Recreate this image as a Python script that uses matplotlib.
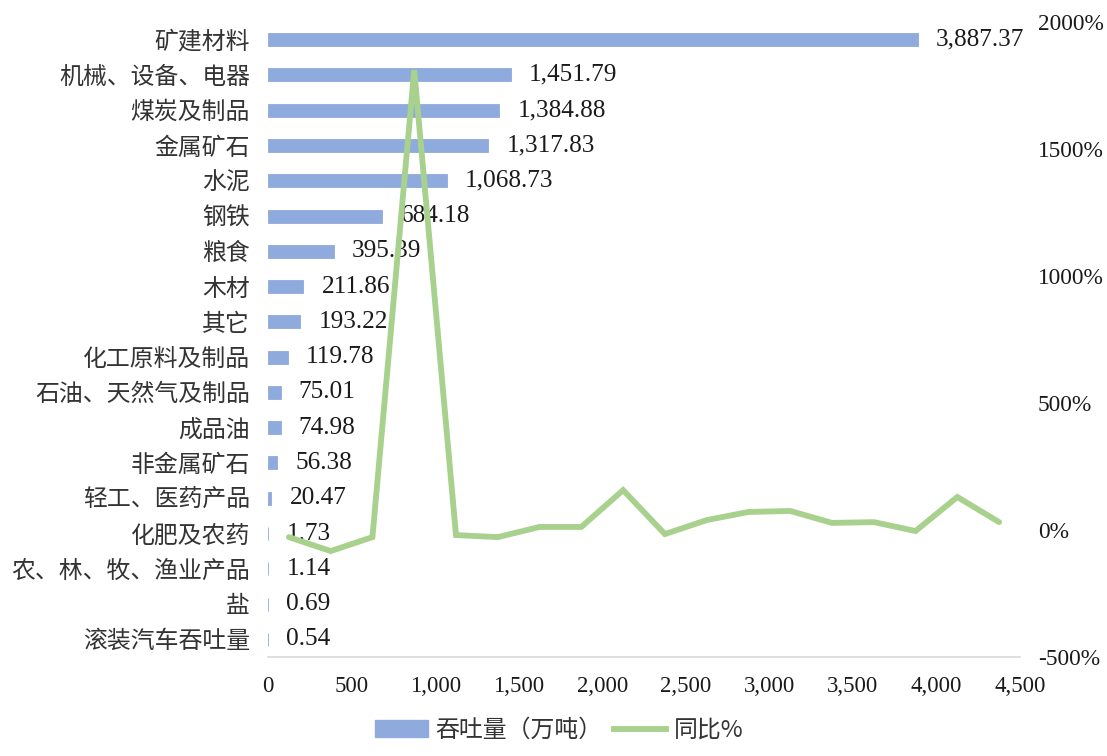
import numpy as np
import matplotlib.pyplot as plt
from matplotlib.ticker import FuncFormatter

plt.rcParams['font.family'] = ['Noto Sans CJK SC', 'DejaVu Sans']

# categories listed from the bottom bar upward (same order as the line points)
categories = ["滚装汽车吞吐量", "盐", "农、林、牧、渔业产品", "化肥及农药",
              "轻工、医药产品", "非金属矿石", "成品油", "石油、天然气及制品",
              "化工原料及制品", "其它", "木材", "粮食", "钢铁", "水泥",
              "金属矿石", "煤炭及制品", "机械、设备、电器", "矿建材料"]
throughput = [0.54, 0.69, 1.14, 1.73, 20.47, 56.38, 74.98, 75.01, 119.78,
              193.22, 211.86, 395.39, 684.18, 1068.73, 1317.83, 1384.88,
              1451.79, 3887.37]
yoy_pct = [-28, -83, -28, 1811, -20, -28, 12, 12, 157, -16, 39, 71, 75,
           28, 31, -4, 130, 31]

x_ticks = np.arange(0, 4501, 500)
y2_ticks = np.arange(-500, 2001, 500)

bar_color = "#8FAADC"
line_color = "#A9D18E"
text_color = "#333333"
num_font = "Liberation Serif"

fig = plt.figure(figsize=(11.07, 7.56), dpi=100)
pos = [268 / 1107, 1 - 657 / 756, (1020 - 268) / 1107, (657 - 22) / 756]
ax = fig.add_axes(pos)

y = np.arange(len(categories))
# thin edge keeps the near-zero bars visible as hairlines
ax.barh(y, throughput, height=0.37, color=bar_color, edgecolor=bar_color,
        linewidth=0.6, zorder=2)
ax.set_ylim(-0.5, len(categories) - 0.5)
ax.set_xlim(0, 4500)
ax.set_xticks(x_ticks)
ax.xaxis.set_major_formatter(FuncFormatter(lambda v, p: f"{v:,.0f}"))
ax.set_yticks(y)
ax.set_yticklabels(categories, fontsize=17.2, color=text_color)
ax.tick_params(axis="y", length=0, pad=13)
ax.tick_params(axis="x", length=0, pad=14, labelsize=16.5, labelcolor="#1a1a1a")
for lbl in ax.get_xticklabels():
    lbl.set_fontfamily(num_font)
for s in ["top", "right", "left"]:
    ax.spines[s].set_visible(False)
ax.spines["bottom"].set_color("#D9D9D9")
ax.spines["bottom"].set_linewidth(1.2)

for yi, v in zip(y, throughput):
    ax.annotate(f"{v:,.2f}", xy=(v, yi), xytext=(13, 0), textcoords="offset points",
                va="center", ha="left", fontsize=18.2, color="#1a1a1a",
                family=num_font, zorder=3)

# year-on-year line on its own category axis and right-hand percent scale
ax2 = fig.add_axes(pos, frameon=False)
ax2.plot(np.arange(len(yoy_pct)), yoy_pct, color=line_color, lw=4.2,
         solid_joinstyle="miter", solid_capstyle="round", zorder=4)
ax2.set_xlim(-0.5, len(yoy_pct) - 0.5)
ax2.set_ylim(-500, 2000)
ax2.set_xticks([])
ax2.yaxis.tick_right()
ax2.set_yticks(y2_ticks)
ax2.set_yticklabels([f"{t}%" for t in y2_ticks], fontsize=16.8,
                    color="#1a1a1a", family=num_font)
ax2.tick_params(axis="y", length=0, pad=13)
ax2.patch.set_visible(False)

handles = [plt.Rectangle((0, 0), 1, 1, color=bar_color),
           plt.Line2D([0], [0], color=line_color, lw=4.2)]
fig.legend(handles, ["吞吐量（万吨）", "同比%"], loc="lower center",
           bbox_to_anchor=(0.505, -0.01), ncol=2, frameon=False, fontsize=17.2,
           handlelength=2.2, handleheight=0.7, columnspacing=0.5,
           handletextpad=0.3, labelcolor=text_color)

fig.savefig("out.png", dpi=100)
